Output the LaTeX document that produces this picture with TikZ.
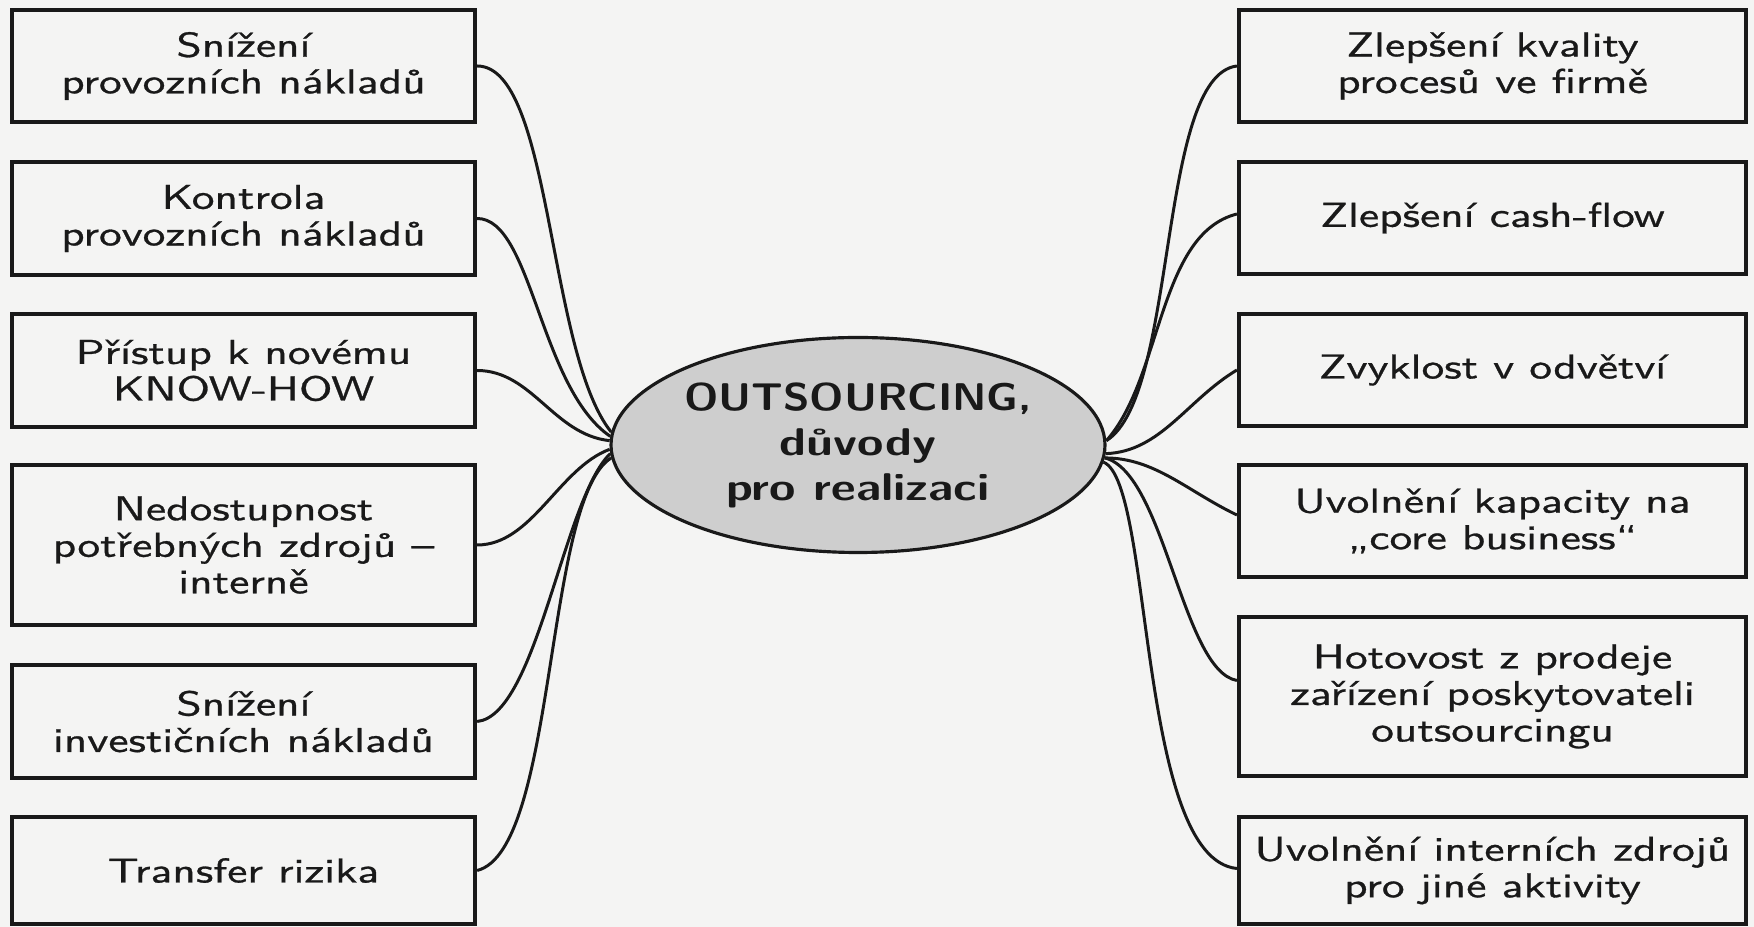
\documentclass[tikz,border=0pt]{standalone}
\usepackage{fontspec}
\setsansfont{lmsans10-regular.otf}[FakeStretch=1.32, FakeBold=0.8, BoldFont=lmsans10-bold.otf]
\newfontfamily\centrefont{lmsans10-bold.otf}[FakeStretch=1.12]
\newfontfamily\centrewide{lmsans10-bold.otf}[FakeStretch=1.24]
\usetikzlibrary{shapes.geometric,calc}
\definecolor{paper}{RGB}{244,244,243}
\definecolor{ellfill}{RGB}{206,206,206}
\definecolor{ink}{RGB}{25,25,25}
\begin{document}
\begin{tikzpicture}[x=0.1mm,y=-0.1mm,
  reason/.style={draw=ink, line width=1.2pt, fill=paper, align=center,
    font=\sffamily\fontsize{9.8}{10.4}\selectfont, text=ink, inner sep=0pt},
  lbox/.style={reason, minimum width=46.3mm},
  rbox/.style={reason, minimum width=50.7mm},
  centre/.style={draw=ink, line width=0.9pt, fill=ellfill, ellipse, inner sep=0pt,
    minimum width=49.4mm, minimum height=21.5mm},
  centretext/.style={align=center, font=\centrefont\fontsize{11}{12.8}\selectfont, text=ink},
  link/.style={draw=ink, line width=0.85pt}]
\fill[paper] (0,0) rectangle (1754,927);
\useasboundingbox (0,0) rectangle (1754,927);

% left boxes
\node[lbox, minimum height=11.2mm] (L1) at (243.5,66) {Snížení\\provozních nákladů};
\node[lbox, minimum height=11.3mm] (L2) at (243.5,218.5) {Kontrola\\provozních nákladů};
\node[lbox, minimum height=11.3mm] (L3) at (243.5,370.5) {Přístup k novému\\KNOW-HOW};
\node[lbox, minimum height=16mm] (L4) at (243.5,545) {Nedostupnost\\potřebných zdrojů –\\interně};
\node[lbox, minimum height=11.3mm] (L5) at (243.5,721.5) {Snížení\\investičních nákladů};
\node[lbox, minimum height=10.7mm] (L6) at (243.5,870.5) {Transfer rizika};

% right boxes
\node[rbox, minimum height=11.2mm] (R1) at (1492.5,66) {Zlepšení kvality\\procesů ve firmě};
\node[rbox, minimum height=11.2mm] (R2) at (1492.5,218) {Zlepšení cash-flow};
\node[rbox, minimum height=11.2mm] (R3) at (1492.5,370) {Zvyklost v odvětví};
\node[rbox, minimum height=11.2mm] (R4) at (1492.5,521) {Uvolnění kapacity na\\„core business“};
\node[rbox, minimum height=15.9mm] (R5) at (1492.5,696.5) {Hotovost z prodeje\\zařízení poskytovateli\\outsourcingu};
\node[rbox, minimum height=10.7mm] (R6) at (1492.5,870.5) {Uvolnění interních zdrojů\\pro jiné aktivity};

% centre
\node[centre] (C) at (858,445) {};
\node[centretext] (CT) at (C.center) {OUTSOURCING,\\{\centrewide důvody}\\{\centrewide pro realizaci}};

% left connectors
\draw[link] (L1.east) .. controls ($(L1.east)+(75,0)$) and ($(C.177)+(-64,-80)$) .. (C.177);
\draw[link] (L2.east) .. controls ($(L2.east)+(55,0)$) and ($(C.178.5)+(-71,-49)$) .. (C.178.5);
\draw[link] (L3.east) .. controls ($(L3.east)+(55,0)$) and ($(C.179.5)+(-56,-6)$) .. (C.179.5);
\draw[link] (L4.east) .. controls ($(L4.east)+(55,0)$) and ($(C.181.5)+(-51,19)$) .. (C.181.5);
\draw[link] (L5.east) .. controls ($(L5.east)+(60,-6)$) and ($(C.182.5)+(-47,45)$) .. (C.182.5);
\draw[link] (L6.east) .. controls ($(L6.east)+(80,-20)$) and ($(C.183.5)+(-67,42)$) .. (C.183.5);

% right connectors
\draw[link] (C.1.5) .. controls ($(C.1.5)+(72,-45)$) and ($(R1.west)+(-80,10)$) .. (R1.west);
\draw[link] (C.1) .. controls ($(C.1)+(56,-63)$) and ($(R2.west)+(-79,16)$) .. ($(R2.west)+(0,-4)$);
\draw[link] (C.-2) .. controls ($(C.-2)+(55,-2)$) and ($(R3.west)+(-50,30)$) .. (R3.west);
\draw[link] (C.-3) .. controls ($(C.-3)+(50,0)$) and ($(R4.west)+(-50,-30)$) .. ($(R4.west)+(0,-6)$);
\draw[link] (C.-3.5) .. controls ($(C.-3.5)+(60,15)$) and ($(R5.west)+(-55,-26)$) .. ($(R5.west)+(0,-16)$);
\draw[link] (C.-4) .. controls ($(C.-4)+(50,20)$) and ($(R6.west)+(-100,-12)$) .. ($(R6.west)+(0,-2)$);
\end{tikzpicture}
\end{document}
